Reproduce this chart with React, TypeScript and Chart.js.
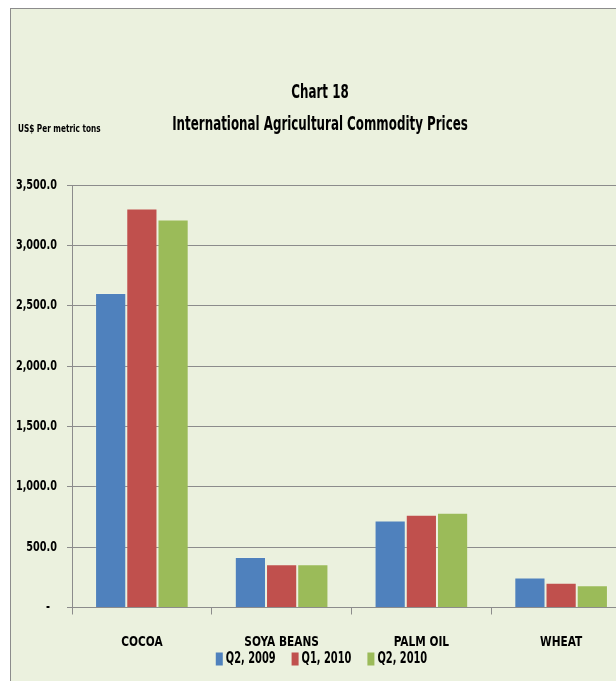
import React, { useEffect, useRef } from 'react';
import { Chart, registerables } from 'chart.js';

Chart.register(...registerables);

const categories = ['COCOA', 'SOYA BEANS', 'PALM OIL', 'WHEAT'];
const seriesNames = ['Q2, 2009', 'Q1, 2010', 'Q2, 2010'];
const q2_2009 = [2605, 419, 720, 248];
const q1_2010 = [3305, 359, 768, 204];
const q2_2010 = [3215, 359, 784, 185];
const seriesColors = ['#4F81BD', '#C0504D', '#9BBB59'];
const yMin = 0;
const yMax = 3500;
const yStep = 500;
const titleLines = ['Chart 18', 'International Agricultural Commodity Prices'];
const yAxisLabel = 'US$ Per metric tons';

const FONT = "'DejaVu Sans Condensed', 'DejaVu Sans', sans-serif";
const GRID = '#8C8C8C';

const fmt = (v: number) =>
  v === 0 ? '-' : v.toLocaleString('en-US', { minimumFractionDigits: 1, maximumFractionDigits: 1 });

function drawText(
  ctx: CanvasRenderingContext2D,
  text: string,
  x: number,
  y: number,
  size: number,
  sx: number,
  align: CanvasTextAlign
) {
  ctx.save();
  ctx.translate(x, y);
  ctx.scale(sx, 1);
  ctx.font = `bold ${size}px ${FONT}`;
  ctx.textAlign = align;
  ctx.textBaseline = 'middle';
  ctx.fillStyle = '#000';
  ctx.fillText(text, 0, 0);
  ctx.restore();
}

function textWidth(ctx: CanvasRenderingContext2D, text: string, size: number, sx: number) {
  ctx.save();
  ctx.font = `bold ${size}px ${FONT}`;
  const w = ctx.measureText(text).width * sx;
  ctx.restore();
  return w;
}

const textPlugin = {
  id: 'textPlugin',
  afterDraw(chart: any) {
    const ctx: CanvasRenderingContext2D = chart.ctx;
    // titles
    drawText(ctx, titleLines[0], 309, 84, 20, 0.66, 'center');
    drawText(ctx, titleLines[1], 309, 116, 20, 0.66, 'center');
    drawText(ctx, yAxisLabel, 7, 120, 11, 0.74, 'left');

    // y tick labels
    const ys = chart.scales.y;
    ys.ticks.forEach((t: any) => {
      const py = ys.getPixelForValue(t.value);
      if (t.value === 0) drawText(ctx, fmt(t.value), 39, py, 14, 0.77, 'right');
      else drawText(ctx, fmt(t.value), 46, py, 14, 0.77, 'right');
    });

    // x tick labels
    const xs = chart.scales.x;
    categories.forEach((c, i) => {
      drawText(ctx, c, xs.getPixelForTick(i), 633, 14, 0.84, 'center');
    });

    // legend
    const lsize = 15;
    const lsx = 0.73;
    const boxW = 7;
    const boxH = 13;
    const gapBox = 3;
    const gapItem = 16;
    const items = chart.data.datasets.map((d: any) => ({
      label: d.label as string,
      color: d.backgroundColor as string,
      w: textWidth(ctx, d.label, lsize, lsx),
    }));
    const total =
      items.reduce((s: number, it: any) => s + boxW + gapBox + it.w, 0) + gapItem * (items.length - 1);
    let x = 310.5 - total / 2;
    const ly = 650;
    items.forEach((it: any) => {
      ctx.fillStyle = it.color;
      ctx.fillRect(x, ly - boxH / 2, boxW, boxH);
      x += boxW + gapBox;
      drawText(ctx, it.label, x, ly, lsize, lsx, 'left');
      x += it.w + gapItem;
    });
  },
};

export default function App() {
  const ref = useRef<HTMLCanvasElement | null>(null);
  useEffect(() => {
    if (!ref.current) return;
    const seriesData = [q2_2009, q1_2010, q2_2010];
    const chart = new Chart(ref.current, {
      type: 'bar',
      data: {
        labels: categories,
        datasets: seriesNames.map((name, i) => ({
          label: name,
          data: seriesData[i],
          backgroundColor: seriesColors[i],
          borderColor: 'rgba(255,255,255,0.12)',
          borderWidth: 1,
          categoryPercentage: 0.67,
          barPercentage: 1.0,
        })),
      },
      options: {
        responsive: false,
        animation: false,
        layout: { padding: { top: 176, left: 0, right: 0, bottom: 66.5 } },
        plugins: {
          title: { display: false },
          tooltip: { enabled: false },
          legend: { display: false },
        },
        scales: {
          x: {
            grid: {
              display: true,
              drawOnChartArea: false,
              drawTicks: true,
              tickLength: 7,
              color: GRID,
              offset: true,
            },
            border: { display: true, color: GRID, width: 1 },
            ticks: { display: false },
          },
          y: {
            min: yMin,
            max: yMax,
            afterFit(scale: any) {
              scale.width = 61;
            },
            grid: { color: GRID, lineWidth: 1, tickLength: 5, drawTicks: true },
            border: { display: true, color: GRID, width: 1 },
            ticks: { stepSize: yStep, display: false },
          },
        },
      },
      plugins: [textPlugin],
    });
    return () => chart.destroy();
  }, []);

  return (
    <div style={{ position: 'fixed', left: 0, top: 0, width: 616, height: 681, overflow: 'hidden', background: '#fff' }}>
      <div
        style={{
          position: 'absolute',
          left: 10,
          top: 8,
          width: 620,
          height: 672,
          borderLeft: '1px solid #8C8C8C',
          borderTop: '1px solid #8C8C8C',
          background: '#EBF1DE',
        }}
      >
        <canvas ref={ref} width={620} height={672} style={{ display: 'block' }} />
      </div>
    </div>
  );
}
